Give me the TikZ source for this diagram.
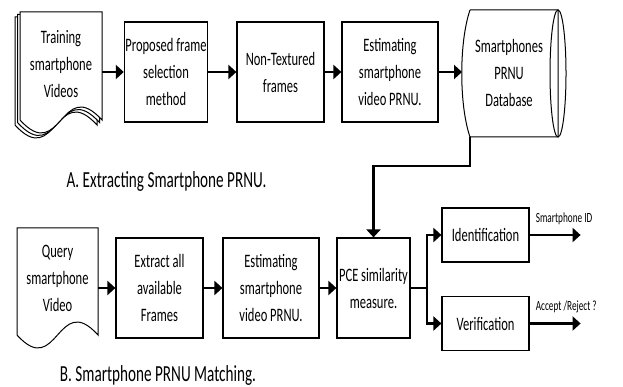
\documentclass[tikz,border=0pt]{standalone}
\usepackage{fontspec}
\setmainfont{Carlito}[FakeStretch=0.66]
\usetikzlibrary{arrows.meta}

% one page of a document symbol: top-left corner, width, height to the wave
\newcommand{\docpage}[4]{%
  \draw[pageline] (#1,#2) -- (#1+#3,#2) -- (#1+#3,#2+#4)
    .. controls (#1+0.5*#3,#2+#4-45) and (#1+0.5*#3,#2+#4+45) .. (#1,#2+#4) -- cycle;}

\begin{document}
\begin{tikzpicture}[x=1pt, y=-1pt,
    font=\fontsize{19}{27}\selectfont,
    pageline/.style={draw, line width=1pt, fill=white},
    stepbox/.style={draw, line width=1.2pt, align=center, inner sep=1pt},
    plaintext/.style={align=center, inner sep=0pt},
    conn/.style={line width=2.2pt, -{Triangle[length=8pt, width=14pt]}},
    outlbl/.style={font=\fontsize{14}{16}\selectfont, inner sep=0pt},
    caption/.style={font=\fontsize{23}{26}\selectfont, inner sep=0pt}]
    \useasboundingbox (0,0) rectangle (623,387);

    % A. extracting the PRNU of each phone
    \docpage{15}{17}{82}{108}
    \docpage{17.5}{14.5}{82}{108}
    \docpage{20}{12}{82}{108}
    \node[plaintext, minimum width=82pt, minimum height=108pt] (train) at (61,64)
        {Training\\smartphone\\Videos};
    \node[stepbox, minimum width=82pt, minimum height=100pt] (prop) at (166,72)
        {Proposed frame\\selection\\method};
    \node[stepbox, minimum width=87pt, minimum height=100pt] (nontex) at (280.5,72)
        {Non-Textured\\frames};
    \node[stepbox, minimum width=96pt, minimum height=100pt] (est) at (390,72)
        {Estimating\\smartphone\\video PRNU.};

    % database cylinder
    \draw[pageline] (470,10) -- (558,10) -- (558,137) -- (470,137)
        .. controls (459,105) and (459,42) .. (470,10);
    \draw[line width=1pt] (558,73.5) ellipse [x radius=8, y radius=63.5];
    \node[plaintext] (db) at (509,73) {Smartphones\\PRNU\\Database};
    \coordinate (dbfoot) at (470,137);

    \draw[conn] (train.east |- prop.west) -- (prop.west);
    \draw[conn] (prop) -- (nontex);
    \draw[conn] (nontex) -- (est);
    \draw[conn] (est.east) -- (462,72);

    \node[caption] (capA) at (166.5,181) {A. Extracting Smartphone PRNU.};

    % B. matching a query video
    \docpage{17}{228}{81}{107}
    \node[plaintext, minimum width=81pt, minimum height=107pt] (query) at (57.5,278)
        {Query\\smartphone\\Video};
    \node[stepbox, minimum width=87pt, minimum height=100pt] (extract) at (159.5,288)
        {Extract all\\available\\Frames};
    \node[stepbox, minimum width=96pt, minimum height=100pt] (est2) at (271,288)
        {Estimating\\smartphone\\video PRNU.};
    \node[stepbox, minimum width=73pt, minimum height=100pt] (pce) at (373.5,288)
        {PCE similarity\\measure.};
    \node[stepbox, minimum width=87pt, minimum height=54pt] (ident) at (485.5,235)
        {Identification};
    \node[stepbox, minimum width=87pt, minimum height=54pt] (verif) at (485.5,323.5)
        {Verification};

    \draw[conn] (query.east |- extract.west) -- (extract.west);
    \draw[conn] (extract) -- (est2);
    \draw[conn] (est2) -- (pce);
    \draw[conn] (dbfoot) -- ++(0,29) -| (pce.north);
    \draw[conn] (pce.east) -- ++(16,0) |- (ident.west);
    \draw[conn] (pce.east) -- ++(16,0) |- (verif.west);
    \draw[conn] (ident.east) -- ++(51,0);
    \draw[conn] (verif.east) -- ++(51,0);
    \node[outlbl, anchor=south west] (idlbl) at ([shift={(6,-10)}]ident.east) {Smartphone ID};
    \node[outlbl, anchor=south west] (arlbl) at ([shift={(6,-10)}]verif.east) {Accept /Reject ?};

    \node[caption] (capB) at (158,375) {B. Smartphone PRNU Matching.};
\end{tikzpicture}
\end{document}
